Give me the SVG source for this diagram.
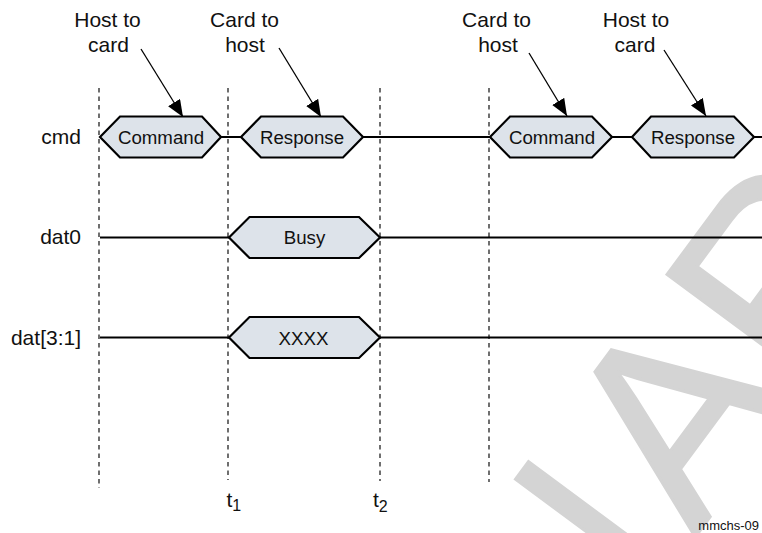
<svg xmlns="http://www.w3.org/2000/svg" width="762" height="533" viewBox="0 0 762 533">
<style>
text{font-family:"Liberation Sans",Arial,sans-serif;fill:#111}
.lbl{font-size:21px}
.hx{font-size:18.7px;text-anchor:middle}
.ann{font-size:21px;text-anchor:middle}
.sig{stroke:#000;stroke-width:2;fill:none}
.dash{stroke:#222;stroke-width:1.3;stroke-dasharray:4.5 4}
.arr{stroke:#000;stroke-width:1.3;fill:none;marker-end:url(#ah)}
.hex{fill:#dde3ea;stroke:#000;stroke-width:2.2;stroke-linejoin:miter}
.wm{font-size:260px;fill:#d4d4d4;stroke:#d4d4d4;stroke-width:3}
</style>
<defs>
<marker id="ah" viewBox="0 0 17 14" refX="17" refY="7" markerWidth="17" markerHeight="14" markerUnits="userSpaceOnUse" orient="auto">
<path d="M0,0 L17,7 L0,14 z" fill="#000"/>
</marker>
</defs>
<rect width="762" height="533" fill="#fff"/>
<g id="watermark">
<text class="wm" transform="translate(695,537.4) rotate(-53.5)"><tspan x="-1245">PRELIMIN</tspan><tspan x="0">ARY</tspan></text>
</g>
<g id="connectors">
<line class="dash" x1="99" y1="88" x2="99" y2="488"/>
<line class="dash" x1="228" y1="88" x2="228" y2="480"/>
<line class="dash" x1="380" y1="88" x2="380" y2="481"/>
<line class="dash" x1="489" y1="88" x2="489" y2="482"/>
<line class="sig" x1="221" y1="137" x2="241" y2="137"/>
<line class="sig" x1="363" y1="137" x2="490" y2="137"/>
<line class="sig" x1="612" y1="137" x2="632" y2="137"/>
<line class="sig" x1="754" y1="137" x2="762" y2="137"/>
<line class="sig" x1="100" y1="237.5" x2="229" y2="237.5"/>
<line class="sig" x1="380" y1="237.5" x2="762" y2="237.5"/>
<line class="sig" x1="100" y1="337.5" x2="229" y2="337.5"/>
<line class="sig" x1="380" y1="337.5" x2="762" y2="337.5"/>
<line class="arr" x1="141" y1="49" x2="183" y2="117"/>
<line class="arr" x1="279" y1="48" x2="321" y2="117"/>
<line class="arr" x1="529" y1="53" x2="567" y2="116"/>
<line class="arr" x1="664" y1="50" x2="706" y2="116"/>
</g>
<g id="labels">
<text class="lbl" x="81" y="144" text-anchor="end">cmd</text>
<text class="lbl" x="81" y="244.3" text-anchor="end">dat0</text>
<text class="lbl" x="81" y="344.5" text-anchor="end">dat[3:1]</text>
<text class="ann" x="107.5" y="27.3">Host to</text>
<text class="ann" x="108.5" y="51.7">card</text>
<text class="ann" x="244.5" y="26.7">Card to</text>
<text class="ann" x="245" y="51.7">host</text>
<text class="ann" x="496.5" y="26.7">Card to</text>
<text class="ann" x="498" y="51.7">host</text>
<text class="ann" x="636" y="27.3">Host to</text>
<text class="ann" x="635" y="51.7">card</text>
<text class="lbl" x="226.5" y="506.5">t<tspan font-size="16" dy="4.5">1</tspan></text>
<text class="lbl" x="373" y="507">t<tspan font-size="16" dy="5">2</tspan></text>
<text x="759" y="530" font-size="13" text-anchor="end">mmchs-09</text>
</g>
<g id="cmd-command-1">
<polygon class="hex" points="100,137 120,116.5 202,116.5 221,137 202,157.5 120,157.5"/>
<text class="hx" x="161" y="143.5">Command</text>
</g>
<g id="cmd-response-1">
<polygon class="hex" points="241,137 261,116.5 343,116.5 363,137 343,157.5 261,157.5"/>
<text class="hx" x="302" y="143.5">Response</text>
</g>
<g id="cmd-command-2">
<polygon class="hex" points="490,137 510,116.5 592,116.5 612,137 592,157.5 510,157.5"/>
<text class="hx" x="552" y="143.5">Command</text>
</g>
<g id="cmd-response-2">
<polygon class="hex" points="632,137 651,116.5 734,116.5 754,137 734,157.5 651,157.5"/>
<text class="hx" x="693" y="143.5">Response</text>
</g>
<g id="dat0-busy">
<polygon class="hex" points="229,237.5 249.5,217 359,217 380,237.5 359,258 249.5,258"/>
<text class="hx" x="304.5" y="244">Busy</text>
</g>
<g id="dat31-xxxx">
<polygon class="hex" points="229,337.5 249.5,317 359,317 380,337.5 359,358 249.5,358"/>
<text class="hx" x="303.5" y="344.5">XXXX</text>
</g>
</svg>
